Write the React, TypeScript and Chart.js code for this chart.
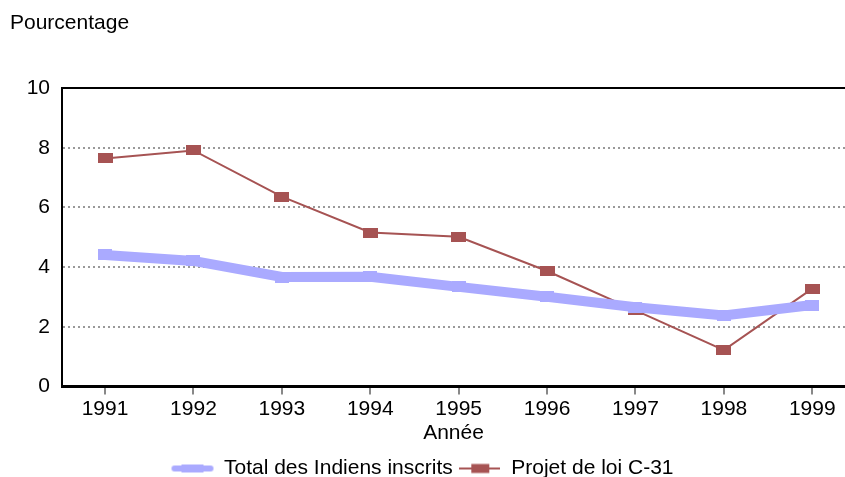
import React, { useEffect, useRef } from "react";
import { Chart, registerables } from "chart.js";

Chart.register(...registerables);

const years = [1991, 1992, 1993, 1994, 1995, 1996, 1997, 1998, 1999];
const totalIndiens = [4.41, 4.21, 3.67, 3.68, 3.34, 3.01, 2.66, 2.38, 2.73];
const projetC31 = [7.64, 7.91, 6.36, 5.16, 5.02, 3.87, 2.55, 1.22, 3.28];
const yTicks = [0, 2, 4, 6, 8, 10];
const seriesNames = ["Total des Indiens inscrits", "Projet de loi C-31"];
const yAxisLabel = "Pourcentage";
const xAxisLabel = "Année";

const BLUE = "#aaaaff";
const RED = "#a65353";
const FONT = "'Liberation Sans', Arial, sans-serif";
const FS = 21;

function rectImage(w: number, h: number, color: string) {
  const c = document.createElement("canvas");
  c.width = w;
  c.height = h;
  const ctx = c.getContext("2d")!;
  ctx.fillStyle = color;
  ctx.fillRect(0, 0, w, h);
  return c;
}

function legendBlue() {
  const c = document.createElement("canvas");
  c.width = 44;
  c.height = 12;
  const ctx = c.getContext("2d")!;
  ctx.strokeStyle = BLUE;
  ctx.lineWidth = 6;
  ctx.lineCap = "round";
  ctx.beginPath();
  ctx.moveTo(4, 6);
  ctx.lineTo(40, 6);
  ctx.stroke();
  ctx.fillStyle = BLUE;
  ctx.fillRect(11, 2, 22, 8);
  return c;
}

function legendRed() {
  const c = document.createElement("canvas");
  c.width = 41;
  c.height = 12;
  const ctx = c.getContext("2d")!;
  ctx.strokeStyle = RED;
  ctx.lineWidth = 2;
  ctx.beginPath();
  ctx.moveTo(0, 6);
  ctx.lineTo(41, 6);
  ctx.stroke();
  ctx.fillStyle = RED;
  ctx.fillRect(12, 1.5, 18, 9);
  return c;
}

const titlePlugin = {
  id: "pourcentage",
  afterDraw(chart: any) {
    const ctx = chart.ctx;
    ctx.save();
    ctx.font = `${FS}px ${FONT}`;
    ctx.fillStyle = "#000";
    ctx.textAlign = "left";
    ctx.textBaseline = "middle";
    ctx.fillText(yAxisLabel, 10, 23);
    ctx.restore();
  },
};

export default function App() {
  const ref = useRef<HTMLCanvasElement>(null);

  useEffect(() => {
    if (!ref.current) return;
    const blueLegend = legendBlue();
    const redLegend = legendRed();
    const chart = new Chart(ref.current, {
      type: "line",
      data: {
        datasets: [
          {
            label: seriesNames[0],
            data: years.map((x, i) => ({ x, y: totalIndiens[i] })),
            borderColor: BLUE,
            backgroundColor: BLUE,
            borderWidth: 10,
            pointStyle: rectImage(14, 11, BLUE) as any,
            pointRadius: 6,
            tension: 0,
          },
          {
            label: seriesNames[1],
            data: years.map((x, i) => ({ x, y: projetC31[i] })),
            borderColor: RED,
            backgroundColor: RED,
            borderWidth: 2,
            pointStyle: rectImage(15, 10, RED) as any,
            pointRadius: 6,
            tension: 0,
          },
        ],
      },
      options: {
        animation: false,
        responsive: false,
        layout: { autoPadding: false, padding: { top: 88, right: 0, left: 0, bottom: -12 } },
        plugins: {
          tooltip: { enabled: false },
          legend: {
            position: "bottom",
            labels: {
              usePointStyle: true,
              pointStyleWidth: 42,
              padding: 6,
              color: "#000",
              font: { family: FONT, size: FS },
              generateLabels: () => [
                { text: seriesNames[0], pointStyle: blueLegend as any, datasetIndex: 0, fillStyle: BLUE, strokeStyle: BLUE, lineWidth: 0, hidden: false },
                { text: seriesNames[1], pointStyle: redLegend as any, datasetIndex: 1, fillStyle: RED, strokeStyle: RED, lineWidth: 0, hidden: false },
              ],
            },
          },
        },
        scales: {
          x: {
            type: "linear",
            min: 1990.513,
            max: 1999.37,
            afterBuildTicks: (scale: any) => {
              scale.ticks = years.map((v) => ({ value: v }));
            },
            afterFit: (scale: any) => {
              scale.paddingLeft = 0;
              scale.paddingRight = 0;
            },
            ticks: {
              color: "#000",
              font: { family: FONT, size: FS },
              padding: 2,
              maxRotation: 0,
              callback: (v: any) => String(v),
            },
            grid: {
              drawOnChartArea: false,
              drawTicks: true,
              tickLength: 8,
              color: "#888",
              lineWidth: 2,
            },
            border: { display: true, color: "#000", width: 3 },
            title: {
              display: true,
              text: xAxisLabel,
              color: "#000",
              font: { family: FONT, size: FS },
              padding: { top: -3, bottom: 6 },
            },
          },
          y: {
            min: 0,
            max: 10,
            afterBuildTicks: (scale: any) => {
              scale.ticks = yTicks.map((v) => ({ value: v }));
            },
            afterFit: (scale: any) => {
              scale.width = 62;
            },
            ticks: {
              color: "#000",
              font: { family: FONT, size: FS },
              padding: 12,
            },
            grid: {
              drawTicks: false,
              lineWidth: 2,
              color: (ctx: any) => {
                const v = ctx.tick ? ctx.tick.value : null;
                if (v === 0) return "rgba(0,0,0,0)";
                if (v === 10) return "#000";
                return "#999";
              },
            },
            border: {
              display: true,
              color: "#000",
              width: 2,
              dash: (ctx: any) => (ctx.tick && ctx.tick.value === 10 ? [] : [2, 3]),
            },
          },
        },
      },
      plugins: [titlePlugin],
    });
    return () => chart.destroy();
  }, []);

  return (
    <div style={{ position: "absolute", left: 0, top: 0, width: 845, height: 477 }}>
      <canvas ref={ref} width={845} height={477} style={{ display: "block" }} />
    </div>
  );
}
